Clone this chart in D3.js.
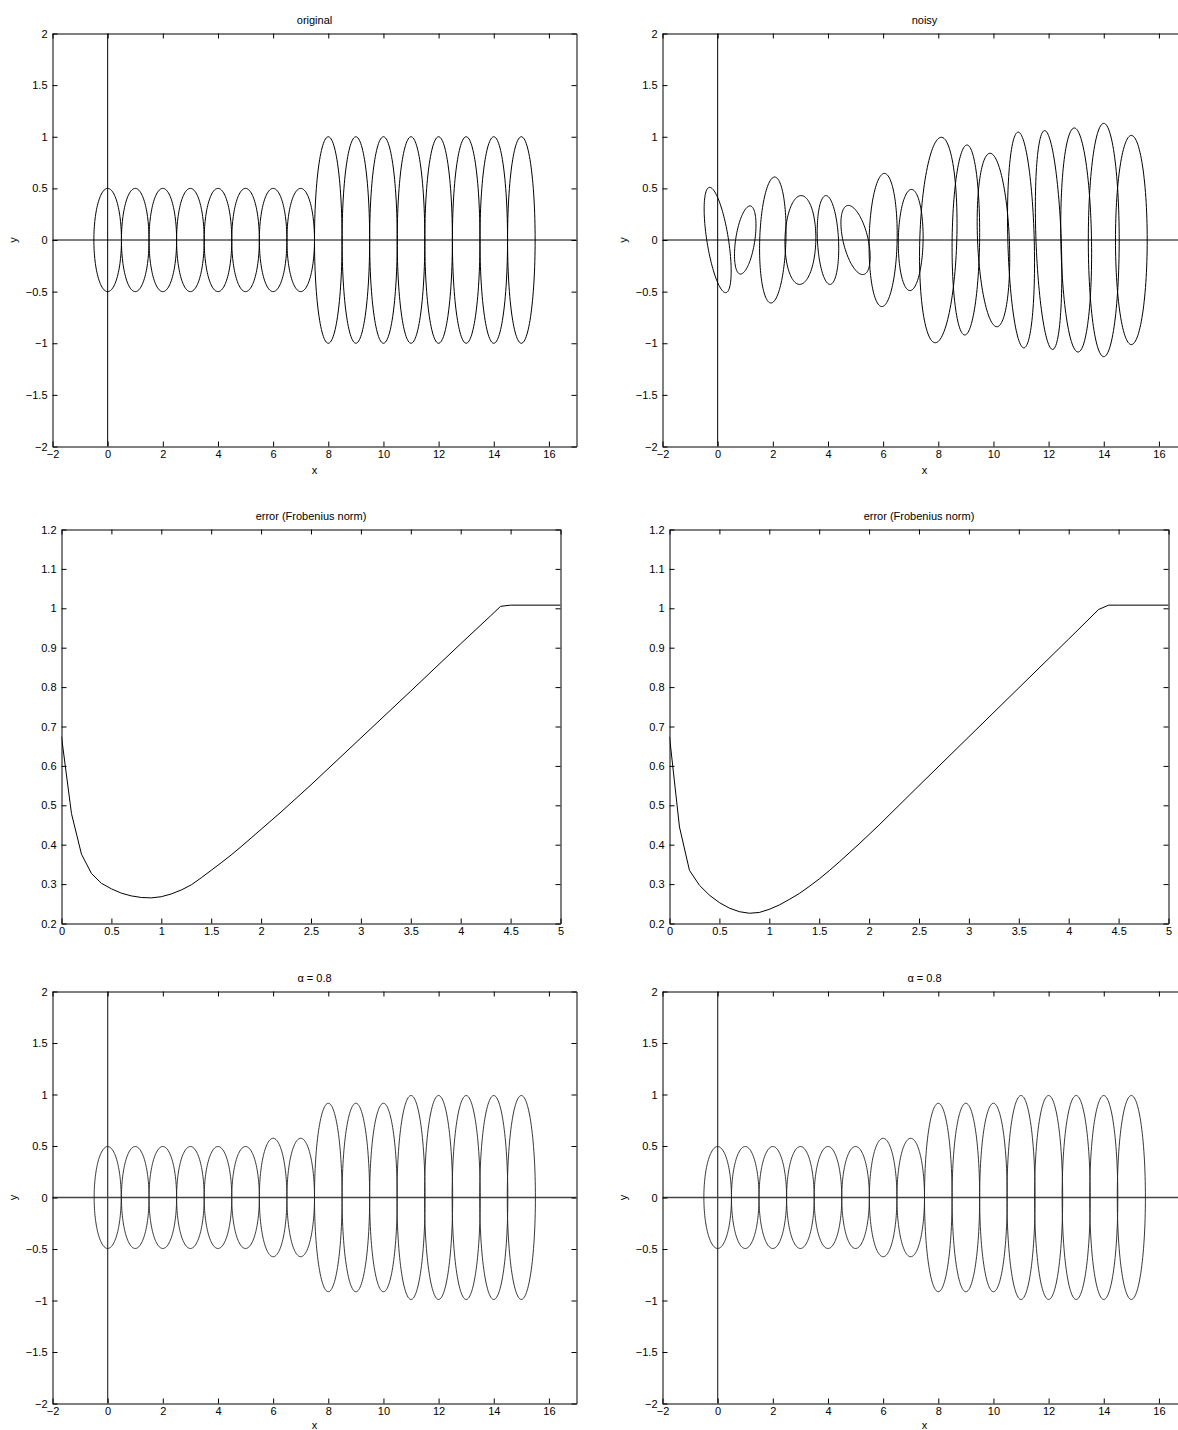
<!DOCTYPE html>
<html>
<head>
<meta charset="utf-8">
<script src="https://cdn.jsdelivr.net/npm/d3@7"></script>
<style>
  body { margin: 0; background: #fff; }
  svg text { font-family: "Liberation Sans", Arial, Helvetica, sans-serif; font-size: 11px; fill: #000; }
</style>
</head>
<body>
<svg id="fig" width="1178" height="1430"></svg>
<script>
// centres of the tensor ellipses along x
const centers = [0, 1, 2, 3, 4, 5, 6, 7, 8, 9, 10, 11, 12, 13, 14, 15];

// original field : half width, half height, x/y correlation
const origRx = [0.5, 0.5, 0.5, 0.5, 0.5, 0.5, 0.5, 0.5, 0.5, 0.5, 0.5, 0.5, 0.5, 0.5, 0.5, 0.5];
const origRy = [0.5, 0.5, 0.5, 0.5, 0.5, 0.5, 0.5, 0.5, 1, 1, 1, 1, 1, 1, 1, 1];
const origCorr = [0, 0, 0, 0, 0, 0, 0, 0, 0, 0, 0, 0, 0, 0, 0, 0];

// noisy field
const noisyRx = [0.49, 0.39, 0.48, 0.56, 0.39, 0.53, 0.51, 0.45, 0.68, 0.50, 0.59, 0.49, 0.48, 0.56, 0.56, 0.575];
const noisyRy = [0.51, 0.33, 0.61, 0.43, 0.43, 0.335, 0.645, 0.49, 0.995, 0.92, 0.84, 1.045, 1.06, 1.085, 1.13, 1.013];
const noisyCorr = [-0.59, 0.44, 0.14, 0.05, -0.19, -0.49, 0.09, 0.06, 0.16, 0.08, -0.21, -0.21, -0.30, -0.12, 0, 0];

// regularised fields (alpha = 0.8)
const smoothOrigRx = [0.49, 0.5, 0.5, 0.5, 0.5, 0.5, 0.5, 0.5, 0.5, 0.5, 0.5, 0.51, 0.51, 0.51, 0.51, 0.51];
const smoothOrigRy = [0.495, 0.495, 0.495, 0.495, 0.495, 0.495, 0.575, 0.575, 0.915, 0.915, 0.915, 0.99, 0.99, 0.99, 0.99, 0.99];
const smoothNoisyRx = [0.5, 0.5, 0.5, 0.5, 0.5, 0.5, 0.5, 0.5, 0.5, 0.5, 0.5, 0.51, 0.51, 0.51, 0.51, 0.51];
const smoothNoisyRy = [0.495, 0.495, 0.495, 0.495, 0.495, 0.495, 0.575, 0.575, 0.915, 0.915, 0.915, 0.99, 0.99, 0.99, 0.99, 0.99];

// error against alpha
const alphas = [0, 0.1, 0.2, 0.3, 0.4, 0.5, 0.6, 0.7, 0.8, 0.9, 1, 1.1, 1.2, 1.3, 1.4, 1.5, 1.6, 1.7, 1.8, 1.9,
  2, 2.1, 2.2, 2.3, 2.4, 2.5, 3, 3.5, 4, 4.3, 4.4, 4.5, 5];
const errOriginal = [0.674, 0.479, 0.376, 0.327, 0.302, 0.288, 0.277, 0.270, 0.266, 0.265, 0.268, 0.275, 0.285,
  0.298, 0.316, 0.335, 0.354, 0.374, 0.395, 0.417, 0.439, 0.461, 0.483, 0.506, 0.529, 0.552, 0.671, 0.790,
  0.910, 0.981, 1.005, 1.008, 1.008];
const errNoisy = [0.674, 0.445, 0.335, 0.297, 0.272, 0.253, 0.239, 0.230, 0.226, 0.228, 0.236, 0.247, 0.261,
  0.276, 0.294, 0.313, 0.334, 0.356, 0.379, 0.402, 0.426, 0.450, 0.475, 0.500, 0.525, 0.550, 0.674, 0.798,
  0.922, 0.997, 1.008, 1.008, 1.008];

// ticks
const fieldXTicks = [-2, 0, 2, 4, 6, 8, 10, 12, 14, 16];
const fieldYTicks = [-2, -1.5, -1, -0.5, 0, 0.5, 1, 1.5, 2];
const errXTicks = [0, 0.5, 1, 1.5, 2, 2.5, 3, 3.5, 4, 4.5, 5];
const errYTicks = [0.2, 0.3, 0.4, 0.5, 0.6, 0.7, 0.8, 0.9, 1, 1.1, 1.2];

const svg = d3.select("#fig");
const fmt = d => String(d).replace("-", "\u2212");
let clipId = 0;

function makePanel(box, xDomain, yDomain, xTicks, yTicks, title, xLabel, yLabel) {
    const g = svg.append("g").attr("transform", `translate(${box.x},${box.y})`);
    const x = d3.scaleLinear().domain(xDomain).range([0, box.w]);
    const y = d3.scaleLinear().domain(yDomain).range([box.h, 0]);

    const id = "clip" + (clipId++);
    g.append("clipPath").attr("id", id)
        .append("rect").attr("width", box.w).attr("height", box.h);
    const plot = g.append("g").attr("clip-path", `url(#${id})`);

    const axes = g.append("g").attr("class", "axes");
    const ax = (axis, t) => axes.append("g").attr("transform", t).call(axis)
        .call(s => s.selectAll("path, line").attr("stroke", "#000"));

    ax(d3.axisBottom(x).tickValues(xTicks).tickFormat(fmt).tickSizeInner(-5).tickSizeOuter(0).tickPadding(4), `translate(0,${box.h})`);
    ax(d3.axisTop(x).tickValues(xTicks).tickFormat("").tickSizeInner(-5).tickSizeOuter(0), "translate(0,0)");
    ax(d3.axisLeft(y).tickValues(yTicks).tickFormat(fmt).tickSizeInner(-5).tickSizeOuter(0).tickPadding(5), "translate(0,0)");
    ax(d3.axisRight(y).tickValues(yTicks).tickFormat("").tickSizeInner(-5).tickSizeOuter(0), `translate(${box.w},0)`);

    g.append("text").attr("x", box.w / 2).attr("y", -9.5)
        .attr("text-anchor", "middle").text(title);
    if (xLabel) {
        // keep the label inside the page for the last row
        const ly = Math.min(box.h + 27, 1429 - box.y);
        g.append("text").attr("x", box.w / 2).attr("y", ly)
            .attr("text-anchor", "middle").text(xLabel);
    }
    if (yLabel) {
        g.append("text").attr("transform", `translate(-36,${box.h / 2}) rotate(-90)`)
            .attr("text-anchor", "middle").text(yLabel);
    }
    return { plot, x, y };
}

function ellipsePoints(cx, rx, ry, k) {
    const s = Math.sqrt(1 - k * k);
    return d3.range(0, 121).map(i => {
        const t = 2 * Math.PI * i / 120;
        return [cx + rx * Math.cos(t), ry * (k * Math.cos(t) + s * Math.sin(t))];
    });
}

function drawField(box, title, rx, ry, corr, opts) {
    const p = makePanel(box, [-2, 17], [-2, 2], fieldXTicks, fieldYTicks, title, "x", "y");
    const line = d3.line().x(d => p.x(d[0])).y(d => p.y(d[1]));

    p.plot.append("line")
        .attr("x1", p.x(-2)).attr("x2", p.x(17)).attr("y1", p.y(0)).attr("y2", p.y(0))
        .attr("stroke", opts.zeroColor).attr("stroke-width", opts.zeroWidth);
    p.plot.append("line")
        .attr("x1", p.x(0)).attr("x2", p.x(0)).attr("y1", p.y(-2)).attr("y2", p.y(2))
        .attr("stroke", opts.zeroColor).attr("stroke-width", opts.zeroWidth);

    p.plot.selectAll(".ell")
        .data(centers.map((c, i) => ellipsePoints(c, rx[i], ry[i], corr[i])))
        .enter()
        .append("path")
        .attr("class", "ell")
        .attr("d", line)
        .attr("fill", "none")
        .attr("stroke", opts.color)
        .attr("stroke-width", opts.width);
}

function drawError(box, values) {
    const p = makePanel(box, [0, 5], [0.2, 1.2], errXTicks, errYTicks, "error (Frobenius norm)");
    const line = d3.line().x((d, i) => p.x(alphas[i])).y(d => p.y(d));
    p.plot.append("path")
        .datum(values)
        .attr("d", line)
        .attr("fill", "none")
        .attr("stroke", "#000")
        .attr("stroke-width", 1);
}

const solid = { color: "#000", width: 1, zeroColor: "#000", zeroWidth: 1 };
const thin = { color: "#222", width: 0.9, zeroColor: "#444", zeroWidth: 1.3 };

drawField({ x: 52.5, y: 33.5, w: 524, h: 413 }, "original", origRx, origRy, origCorr, solid);
drawField({ x: 662.5, y: 33.5, w: 524, h: 413 }, "noisy", noisyRx, noisyRy, noisyCorr, solid);

drawError({ x: 61.5, y: 529.5, w: 499, h: 394 }, errOriginal);
drawError({ x: 669.5, y: 529.5, w: 499, h: 394 }, errNoisy);

drawField({ x: 52.5, y: 991.5, w: 524, h: 412 }, "\u03b1 = 0.8", smoothOrigRx, smoothOrigRy, origCorr, thin);
drawField({ x: 662.5, y: 991.5, w: 524, h: 412 }, "\u03b1 = 0.8", smoothNoisyRx, smoothNoisyRy, origCorr, thin);
</script>
</body>
</html>
